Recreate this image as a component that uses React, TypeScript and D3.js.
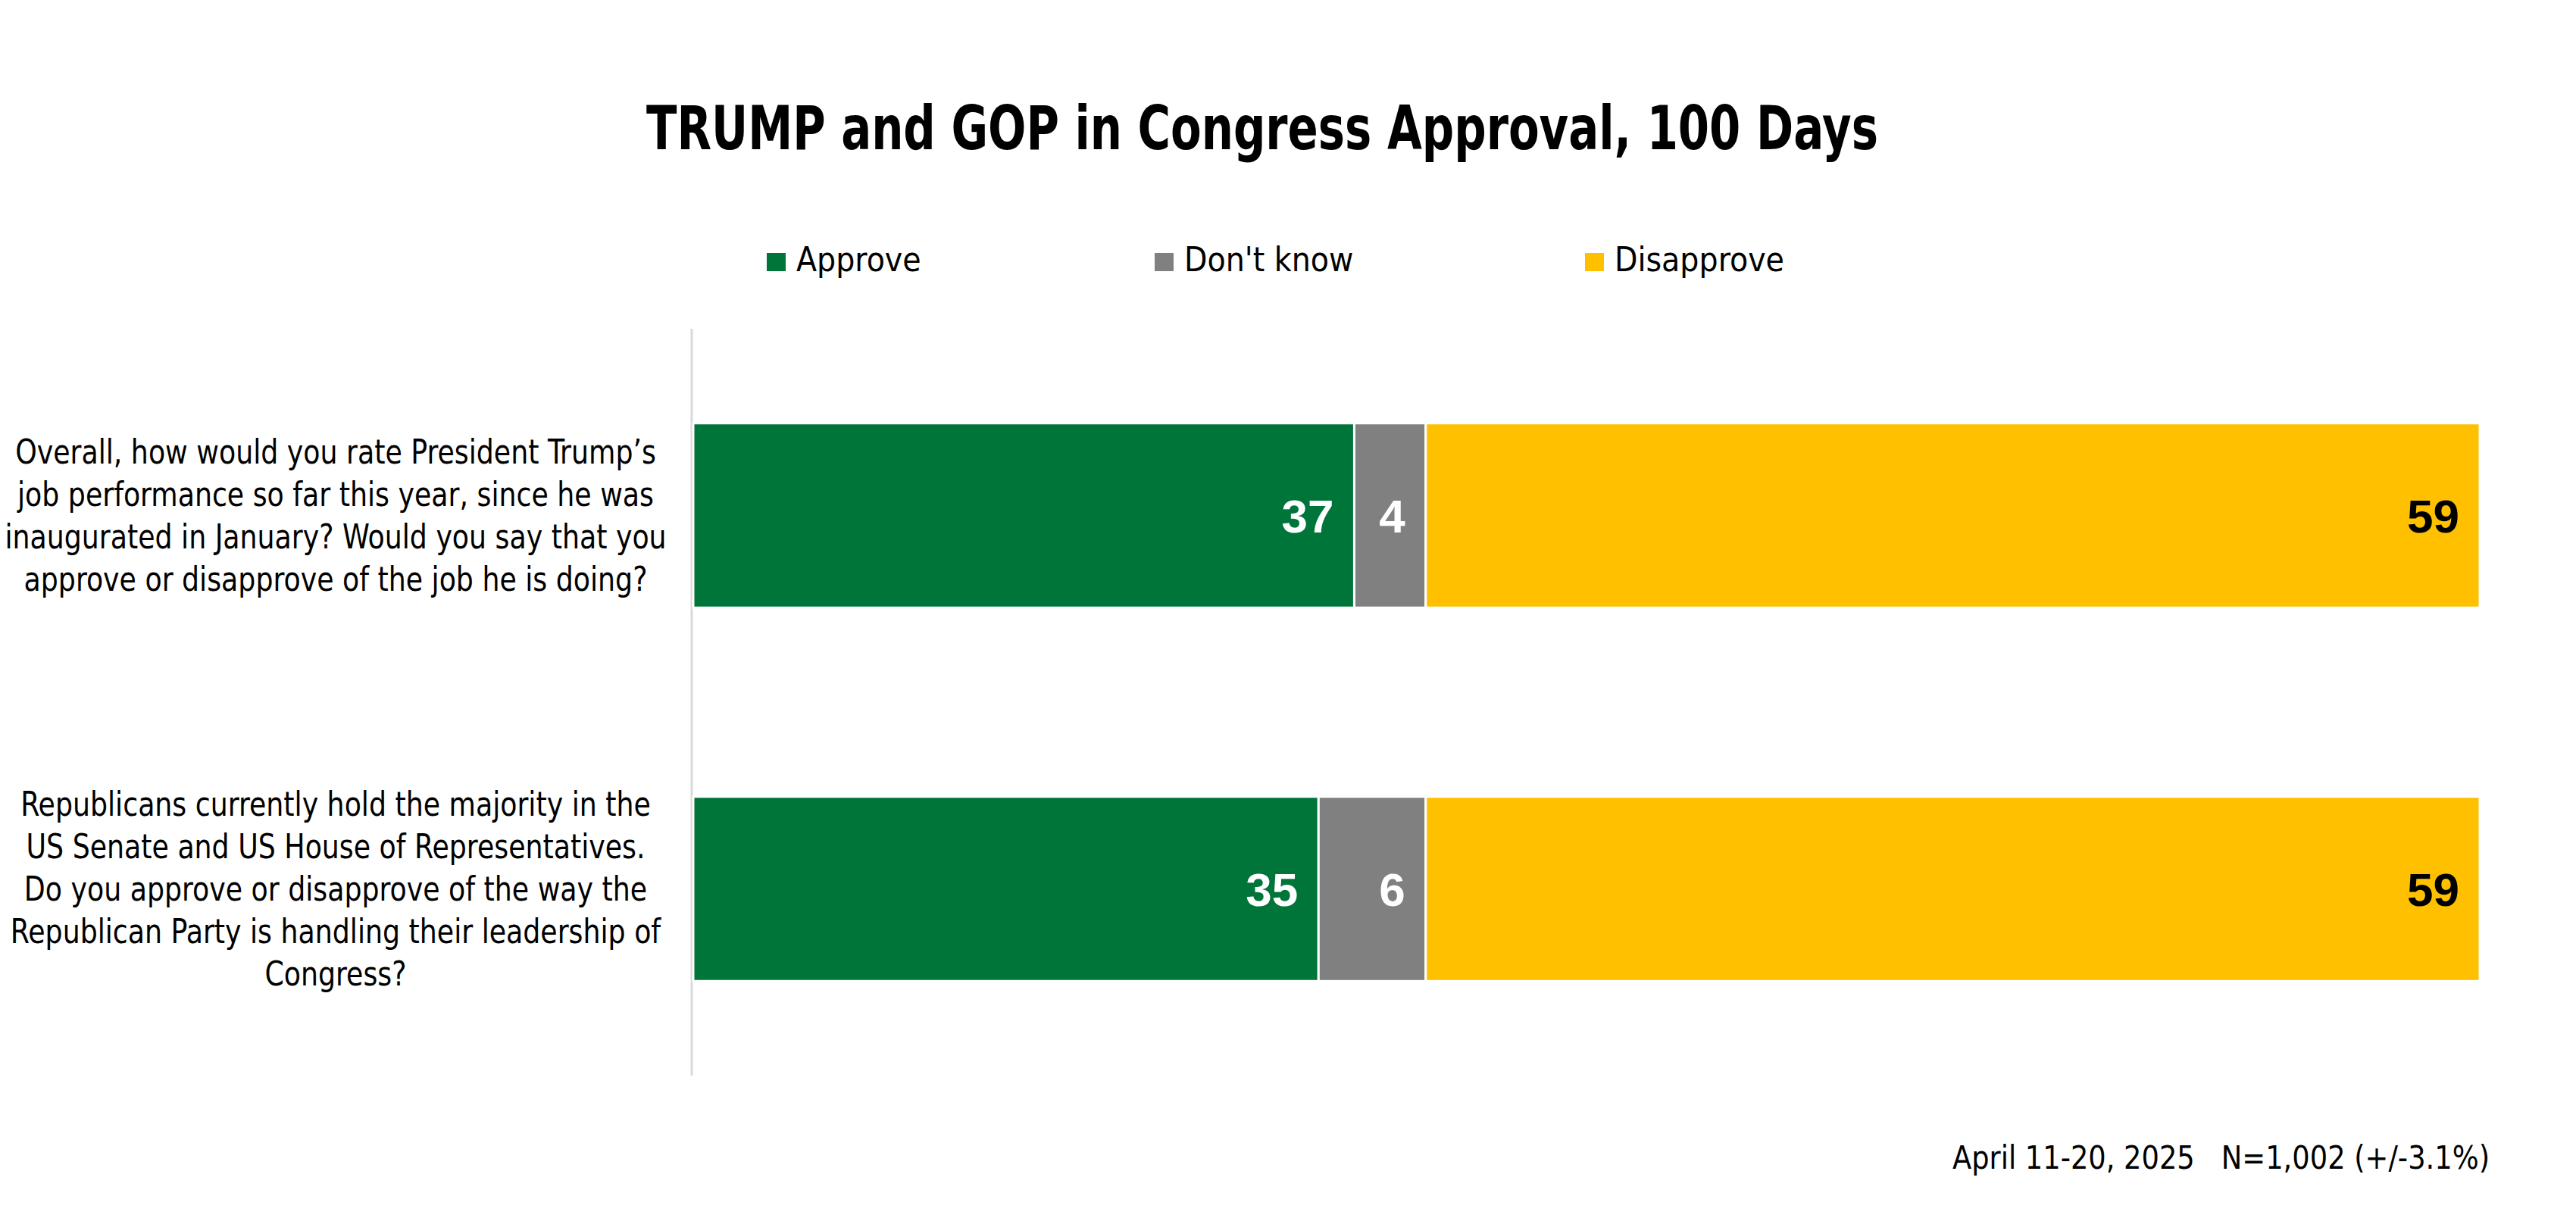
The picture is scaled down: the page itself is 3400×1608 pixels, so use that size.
import React from "react";
import * as d3 from "d3";

const questions = [
  [
    "Overall, how would you rate President Trump’s",
    "job performance so far this year, since he was",
    "inaugurated in January? Would you say that you",
    "approve or disapprove of the job he is doing?",
  ],
  [
    "Republicans currently hold the majority in the",
    "US Senate and US House of Representatives.",
    "Do you approve or disapprove of the way the",
    "Republican Party is handling their leadership of",
    "Congress?",
  ],
];
const questionIds = ["trump", "gop"];
const seriesNames = ["Approve", "Don't know", "Disapprove"];
const approve = [37, 35];
const dontKnow = [4, 6];
const disapprove = [59, 59];
const colors = ["#00753A", "#808080", "#FFC000"];
const labelColors = ["#FFFFFF", "#FFFFFF", "#000000"];
const title = "TRUMP and GOP in Congress Approval, 100 Days";
const footnote = "April 11-20, 2025   N=1,002 (+/-3.1%)";

const W = 3400;
const H = 1608;
const NARROW = "'Liberation Sans Narrow', 'Arial Narrow', 'DejaVu Sans Condensed', 'Liberation Sans', sans-serif";
const REG = "'Liberation Sans', Arial, sans-serif";

export default function App() {
  const rows = questionIds.map((id, i) => ({
    id,
    a: approve[i],
    d: dontKnow[i],
    n: disapprove[i],
  }));
  const keys = ["a", "d", "n"];
  const stacked = d3.stack<any>().keys(keys)(rows);

  const x = d3.scaleLinear().domain([0, 100]).range([915, 3273]);
  const y = d3
    .scaleBand<string>()
    .domain(questionIds)
    .range([434, 1420])
    .paddingInner(0.506)
    .paddingOuter(0.253);

  const legendX = [1012, 1524, 2092];
  const lineH = 56;
  const qx = 443;
  const qk = 0.917;

  return (
    <svg
      width={W}
      height={H}
      style={{ position: "absolute", left: 0, top: 0, background: "#fff" }}
    >
      <rect x={0} y={0} width={W} height={H} fill="#fff" />
      <text
        x={1666}
        y={197}
        textAnchor="middle"
        fontFamily={NARROW}
        fontWeight="bold"
        fontSize={80}
        fill="#000"
        textLength={1626}
        lengthAdjust="spacingAndGlyphs"
      >
        {title}
      </text>

      {seriesNames.map((s, i) => (
        <g key={s}>
          <rect x={legendX[i]} y={334} width={25} height={24} fill={colors[i]} />
          <text
            x={legendX[i] + 39}
            y={358}
            fontFamily={NARROW}
            fontSize={44}
            fill="#000"
          >
            {s}
          </text>
        </g>
      ))}

      <line x1={913} x2={913} y1={434} y2={1420} stroke="#D9D9D9" strokeWidth={3} />

      {stacked.map((layer, li) => (
        <g key={layer.key}>
          {layer.map((d, di) => {
            const id = questionIds[di];
            const x0 = x(d[0]);
            const x1 = x(d[1]);
            const yy = y(id)!;
            const bw = y.bandwidth();
            return (
              <g key={id}>
                <rect
                  x={x0}
                  y={yy}
                  width={x1 - x0}
                  height={bw}
                  fill={colors[li]}
                  stroke="#fff"
                  strokeWidth={3}
                />
                <text
                  x={x1 - 27}
                  y={yy + bw / 2}
                  dy="0.36em"
                  textAnchor="end"
                  fontFamily={REG}
                  fontWeight="bold"
                  fontSize={62}
                  fill={labelColors[li]}
                >
                  {d[1] - d[0]}
                </text>
              </g>
            );
          })}
        </g>
      ))}

      {questions.map((lines, qi) => {
        const cy = y(questionIds[qi])! + y.bandwidth() / 2;
        const first = cy - ((lines.length - 1) * lineH) / 2 + 16;
        return (
          <g key={qi} transform={`translate(${qx},0) scale(${qk},1)`}>
            <text textAnchor="middle" fontFamily={NARROW} fontSize={44} fill="#000">
              {lines.map((l, li) => (
                <tspan key={li} x={0} y={first + li * lineH}>
                  {l}
                </tspan>
              ))}
            </text>
          </g>
        );
      })}

      <text
        x={3286}
        y={1543}
        textAnchor="end"
        fontFamily={NARROW}
        fontSize={43}
        fill="#000"
        textLength={709}
        lengthAdjust="spacingAndGlyphs"
        style={{ whiteSpace: "pre" }}
      >
        {footnote}
      </text>
    </svg>
  );
}
